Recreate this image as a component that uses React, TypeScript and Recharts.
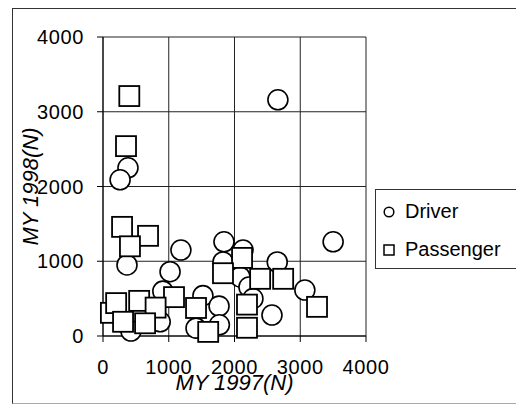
import React from "react";
import { ScatterChart, Scatter, XAxis, YAxis, CartesianGrid } from "recharts";

// Driver series (MY 1997 force, MY 1998 force)
const driverX = [2660, 380, 260, 3500, 1840, 2130, 1185, 365, 1825, 2650, 1020, 2085, 2220, 3070, 910, 1520, 1765, 2280, 2570, 1770, 1415, 425, 870];
const driverY = [3160, 2250, 2090, 1260, 1260, 1150, 1150, 950, 990, 990, 860, 790, 655, 615, 600, 540, 400, 500, 280, 150, 105, 67, 190];

// Passenger series
const passengerX = [120, 400, 350, 290, 685, 410, 2115, 1825, 2390, 2740, 1080, 550, 200, 800, 1415, 3255, 2190, 305, 640, 2190, 1600];
const passengerY = [310, 3210, 2540, 1460, 1340, 1200, 1045, 840, 765, 765, 520, 470, 440, 380, 375, 390, 420, 190, 170, 110, 55];

const axisTicks = [0, 1000, 2000, 3000, 4000];
const seriesNames = ["Driver", "Passenger"];
const xTitle = "MY 1997(N)";
const yTitle = "MY 1998(N)";

const driverData = driverX.map((x, i) => ({ x, y: driverY[i] }));
const passengerData = passengerX.map((x, i) => ({ x, y: passengerY[i] }));

const FONT = "'Liberation Sans', Arial, sans-serif";

const CircleShape = (props: any) => (
  <circle cx={props.cx} cy={props.cy} r={10} fill="#fff" stroke="#000" strokeWidth={1.6} />
);
const SquareShape = (props: any) => (
  <rect x={props.cx - 10} y={props.cy - 10} width={20} height={20} fill="#fff" stroke="#000" strokeWidth={1.8} />
);

const tickStyle = { fontSize: 20, fontFamily: FONT, fill: "#000", letterSpacing: 0.6 };

export default function App() {
  return (
    <div style={{ position: "fixed", left: 0, top: 0, width: 516, height: 408, overflow: "hidden", background: "#fff" }}>
      <div
        style={{
          position: "absolute",
          left: 12,
          top: 8,
          width: 600,
          height: 394,
          borderTop: "1px solid #333",
          borderLeft: "1px solid #333",
          borderBottom: "1px solid #aaa",
        }}
      />
      <div style={{ position: "absolute", left: 0, top: 0 }}>
        <ScatterChart width={516} height={408} margin={{ top: 37, right: 150, bottom: 32, left: 0 }}>
          <CartesianGrid stroke="#222" strokeWidth={1} />
          <XAxis
            type="number"
            dataKey="x"
            domain={[0, 4000]}
            ticks={axisTicks}
            interval={0}
            height={40}
            tickSize={6}
            tickMargin={18}
            stroke="#000"
            tick={tickStyle}
            label={{
              content: (p: any) => {
                const vb = p.viewBox;
                return (
                  <text
                    x={vb.x + vb.width / 2}
                    y={vb.y + 54}
                    textAnchor="middle"
                    fontSize={22}
                    fontStyle="italic"
                    fontFamily={FONT}
                    fill="#000"
                  >
                    {xTitle}
                  </text>
                );
              },
            }}
          />
          <YAxis
            type="number"
            dataKey="y"
            domain={[0, 4000]}
            ticks={axisTicks}
            interval={0}
            width={103}
            tickSize={6}
            tickMargin={13}
            stroke="#000"
            tick={tickStyle}
            label={{
              content: (p: any) => {
                const vb = p.viewBox;
                const cx = vb.x + 38;
                const cy = vb.y + vb.height / 2;
                return (
                  <text
                    x={cx}
                    y={cy}
                    transform={`rotate(-90, ${cx}, ${cy})`}
                    textAnchor="middle"
                    fontSize={22}
                    fontStyle="italic"
                    fontFamily={FONT}
                    fill="#000"
                  >
                    {yTitle}
                  </text>
                );
              },
            }}
          />
          <Scatter name={seriesNames[0]} data={driverData} shape={CircleShape} isAnimationActive={false} />
          <Scatter name={seriesNames[1]} data={passengerData} shape={SquareShape} isAnimationActive={false} />
        </ScatterChart>
      </div>
      <div
        style={{
          position: "absolute",
          left: 375,
          top: 189,
          width: 160,
          height: 78,
          border: "1px solid #333",
          fontFamily: FONT,
          fontSize: 20,
          color: "#000",
          background: "#fff",
        }}
      >
        <div style={{ position: "absolute", left: 7, top: 10, display: "flex", alignItems: "center", whiteSpace: "nowrap" }}>
          <svg width={12} height={12} style={{ marginRight: 10 }}>
            <circle cx={6} cy={6} r={4.8} fill="#fff" stroke="#000" strokeWidth={1.5} />
          </svg>
          <span>{seriesNames[0]}</span>
        </div>
        <div style={{ position: "absolute", left: 7, top: 48, display: "flex", alignItems: "center", whiteSpace: "nowrap" }}>
          <svg width={12} height={12} style={{ marginRight: 10 }}>
            <rect x={1} y={1} width={10} height={10} fill="#fff" stroke="#000" strokeWidth={1.5} />
          </svg>
          <span>{seriesNames[1]}</span>
        </div>
      </div>
    </div>
  );
}
